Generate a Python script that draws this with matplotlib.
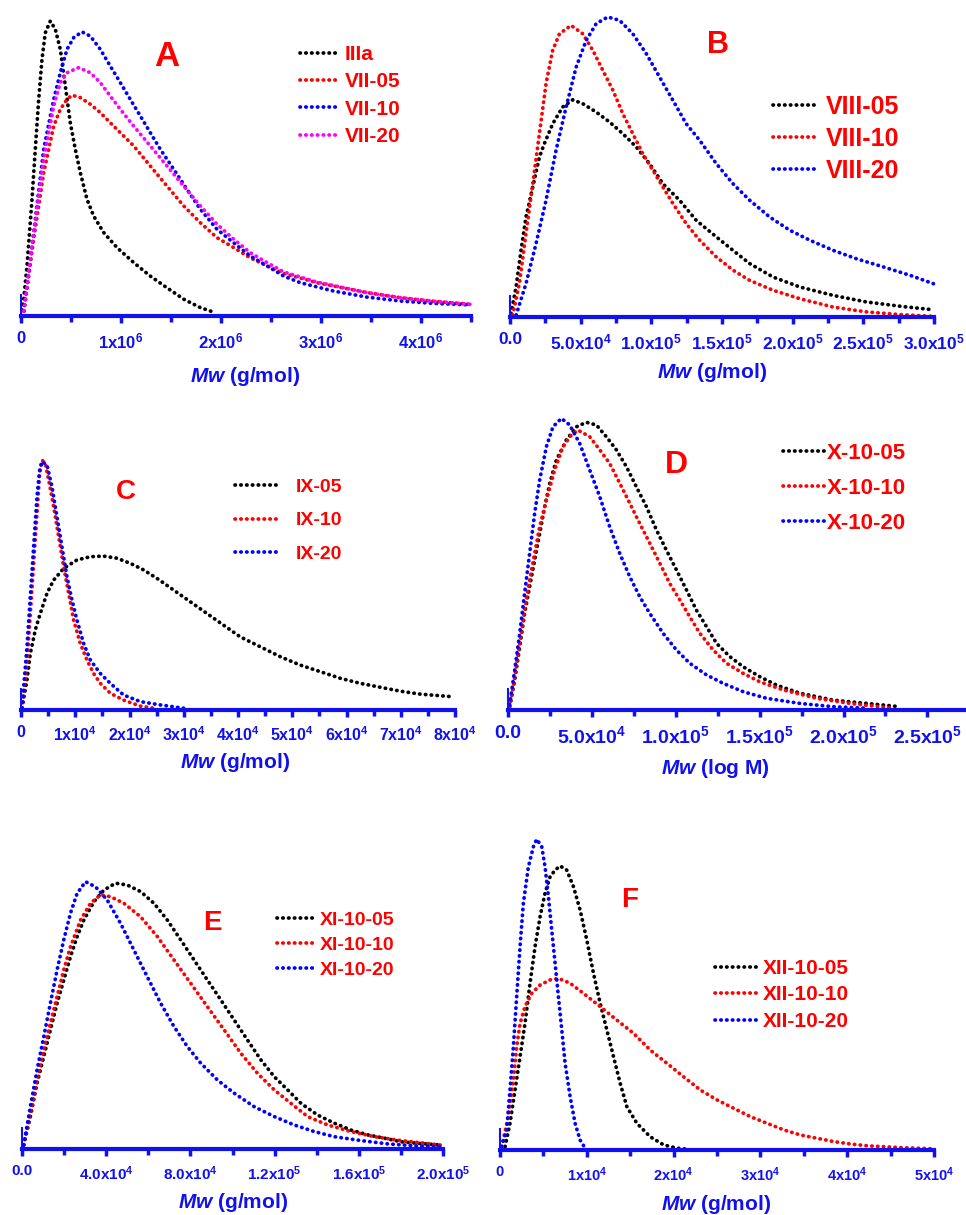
import numpy as np
import matplotlib
matplotlib.use("Agg")
import matplotlib.pyplot as plt
from matplotlib.ticker import FixedLocator, MultipleLocator, FixedFormatter

plt.rcParams['font.family'] = ['Liberation Sans', 'DejaVu Sans']
plt.rcParams['mathtext.fontset'] = 'custom'
plt.rcParams['mathtext.rm'] = 'Liberation Sans:bold'
plt.rcParams['mathtext.bf'] = 'Liberation Sans:bold'
plt.rcParams['mathtext.it'] = 'Liberation Sans:italic:bold'
plt.rcParams['mathtext.bfit'] = 'Liberation Sans:italic:bold'

BLUE = '#1010f0'

# ---------------- panel A  (x in 1e6 g/mol, y relative) ----------------
a_names = ['IIIa', 'VII-05', 'VII-10', 'VII-20']
a_x_IIIa = [0, 0.027, 0.06, 0.11, 0.143, 0.177, 0.21, 0.243, 0.293, 0.343, 0.393, 0.443, 0.493, 0.543, 0.593,
            0.66, 0.727, 0.827, 0.96, 1.127, 1.293, 1.46, 1.627, 1.793, 1.943]
a_y_IIIa = [0, 0.056, 0.167, 0.389, 0.556, 0.722, 0.856, 0.944, 0.983, 0.956, 0.889, 0.767, 0.644, 0.556, 0.478,
            0.389, 0.333, 0.278, 0.228, 0.178, 0.133, 0.094, 0.056, 0.028, 0.011]
a_x_VII05 = [0, 0.027, 0.127, 0.227, 0.327, 0.393, 0.46, 0.51, 0.593, 0.693, 0.793, 0.893, 0.993, 1.127, 1.293,
             1.46, 1.627, 1.793, 1.96, 2.127, 2.293, 2.46, 2.627, 2.96, 3.46, 3.793, 4.127, 4.493]
a_y_VII05 = [0, 0.011, 0.256, 0.478, 0.633, 0.689, 0.722, 0.736, 0.728, 0.706, 0.678, 0.644, 0.611, 0.567, 0.5,
             0.433, 0.367, 0.311, 0.261, 0.228, 0.194, 0.167, 0.142, 0.111, 0.078, 0.061, 0.049, 0.039]
a_x_VII10 = [0, 0.027, 0.127, 0.227, 0.327, 0.393, 0.46, 0.527, 0.61, 0.693, 0.793, 0.893, 0.993, 1.093, 1.193,
             1.293, 1.393, 1.527, 1.66, 1.793, 1.96, 2.127, 2.293, 2.46, 2.627, 2.793, 3.127, 3.46, 3.793, 4.127, 4.493]
a_y_VII10 = [0, 0.011, 0.278, 0.556, 0.722, 0.811, 0.889, 0.928, 0.947, 0.933, 0.889, 0.833, 0.778, 0.722, 0.667,
             0.611, 0.556, 0.489, 0.422, 0.356, 0.289, 0.244, 0.2, 0.167, 0.133, 0.111, 0.083, 0.063, 0.05, 0.042, 0.037]
a_x_VII20 = [0, 0.027, 0.127, 0.227, 0.327, 0.393, 0.46, 0.577, 0.693, 0.793, 0.893, 0.993, 1.127, 1.293, 1.46,
             1.627, 1.793, 1.96, 2.127, 2.293, 2.46, 2.627, 2.96, 3.46, 3.793, 4.127, 4.493]
a_y_VII20 = [0, 0.011, 0.278, 0.522, 0.7, 0.778, 0.811, 0.828, 0.811, 0.778, 0.733, 0.689, 0.633, 0.567, 0.5,
             0.433, 0.367, 0.306, 0.256, 0.211, 0.178, 0.147, 0.113, 0.078, 0.061, 0.049, 0.039]

# ---------------- panel B  (x in 1e5 g/mol) ----------------
b_names = ['VIII-05', 'VIII-10', 'VIII-20']
b_x_05 = [0.007, 0.043, 0.078, 0.113, 0.161, 0.208, 0.243, 0.302, 0.373, 0.444, 0.515, 0.61, 0.704, 0.798, 0.893,
          0.987, 1.082, 1.2, 1.318, 1.46, 1.578, 1.696, 1.862, 2.051, 2.287, 2.523, 2.759, 2.996]
b_y_05 = [0.011, 0.1, 0.222, 0.333, 0.433, 0.533, 0.578, 0.644, 0.7, 0.724, 0.711, 0.683, 0.65, 0.611, 0.567,
          0.511, 0.444, 0.389, 0.322, 0.267, 0.222, 0.178, 0.133, 0.1, 0.072, 0.05, 0.036, 0.024]
b_x_10 = [0.019, 0.066, 0.113, 0.161, 0.208, 0.255, 0.302, 0.35, 0.432, 0.515, 0.586, 0.657, 0.728, 0.798, 0.869,
          0.94, 1.011, 1.082, 1.153, 1.247, 1.342, 1.46, 1.578, 1.696, 1.862, 2.051, 2.287, 2.523, 2.759, 2.996]
b_y_10 = [0.006, 0.111, 0.278, 0.444, 0.611, 0.778, 0.889, 0.944, 0.972, 0.944, 0.889, 0.822, 0.756, 0.678, 0.611,
          0.544, 0.489, 0.433, 0.378, 0.311, 0.256, 0.2, 0.156, 0.122, 0.089, 0.061, 0.033, 0.017, 0.008, 0.002]
b_x_20 = [0.043, 0.113, 0.184, 0.255, 0.326, 0.397, 0.468, 0.539, 0.61, 0.692, 0.775, 0.869, 0.964, 1.058, 1.153,
          1.247, 1.342, 1.46, 1.578, 1.696, 1.838, 1.98, 2.121, 2.287, 2.452, 2.641, 2.83, 2.996]
b_y_20 = [0.006, 0.111, 0.244, 0.389, 0.556, 0.7, 0.833, 0.922, 0.978, 1.0, 0.989, 0.944, 0.878, 0.8, 0.722,
          0.644, 0.589, 0.511, 0.444, 0.389, 0.333, 0.289, 0.256, 0.222, 0.194, 0.167, 0.139, 0.111]

# ---------------- panel C  (x in 1e4 g/mol) ----------------
c_names = ['IX-05', 'IX-10', 'IX-20']
c_x_05 = [0.018, 0.11, 0.172, 0.264, 0.356, 0.479, 0.602, 0.786, 1.031, 1.277, 1.522, 1.768, 2.014, 2.259, 2.505,
          2.812, 3.119, 3.425, 3.732, 4.039, 4.408, 4.776, 5.144, 5.513, 5.881, 6.249, 6.618, 6.986, 7.354, 7.968]
c_y_05 = [0.006, 0.1, 0.189, 0.267, 0.322, 0.389, 0.433, 0.472, 0.5, 0.511, 0.513, 0.506, 0.489, 0.467, 0.439,
          0.4, 0.361, 0.322, 0.283, 0.244, 0.211, 0.178, 0.15, 0.128, 0.106, 0.089, 0.076, 0.063, 0.053, 0.044]
c_x_10 = [0.018, 0.11, 0.172, 0.233, 0.295, 0.344, 0.387, 0.448, 0.51, 0.602, 0.694, 0.786, 0.878, 0.97, 1.093,
          1.215, 1.338, 1.461, 1.645, 1.891, 2.198, 2.443]
c_y_10 = [0.006, 0.156, 0.322, 0.489, 0.656, 0.789, 0.833, 0.822, 0.767, 0.678, 0.578, 0.478, 0.389, 0.3, 0.222,
          0.167, 0.122, 0.089, 0.056, 0.033, 0.013, 0.006]
c_x_20 = [0.018, 0.11, 0.172, 0.233, 0.295, 0.344, 0.387, 0.479, 0.571, 0.663, 0.755, 0.847, 0.939, 1.031, 1.154,
          1.277, 1.461, 1.645, 1.891, 2.198, 2.566, 2.996]
c_y_20 = [0.006, 0.211, 0.378, 0.544, 0.711, 0.8, 0.828, 0.817, 0.744, 0.644, 0.544, 0.444, 0.367, 0.3, 0.222,
          0.167, 0.122, 0.089, 0.05, 0.028, 0.017, 0.006]

# ---------------- panel D  (x in 1e5) ----------------
d_names = ['X-10-05', 'X-10-10', 'X-10-20']
d_x_05 = [0.01, 0.04, 0.07, 0.099, 0.129, 0.159, 0.189, 0.219, 0.249, 0.288, 0.348, 0.408, 0.467, 0.527, 0.586,
          0.646, 0.706, 0.765, 0.825, 0.885, 0.944, 1.004, 1.064, 1.123, 1.183, 1.243, 1.322, 1.402, 1.501, 1.6,
          1.74, 1.938, 2.137, 2.336]
d_y_05 = [0.011, 0.1, 0.211, 0.322, 0.411, 0.5, 0.589, 0.678, 0.756, 0.833, 0.9, 0.944, 0.959, 0.95, 0.911,
          0.867, 0.811, 0.744, 0.678, 0.6, 0.533, 0.467, 0.4, 0.333, 0.278, 0.222, 0.178, 0.144, 0.111, 0.083,
          0.056, 0.033, 0.022, 0.011]
d_x_10 = [0.01, 0.04, 0.07, 0.099, 0.129, 0.159, 0.189, 0.229, 0.278, 0.328, 0.378, 0.417, 0.487, 0.547, 0.606,
          0.666, 0.726, 0.785, 0.845, 0.905, 0.964, 1.024, 1.083, 1.143, 1.223, 1.302, 1.402, 1.501, 1.64, 1.839,
          2.038, 2.296]
d_y_10 = [0.011, 0.111, 0.222, 0.333, 0.433, 0.522, 0.611, 0.7, 0.8, 0.878, 0.917, 0.933, 0.911, 0.867, 0.822,
          0.756, 0.689, 0.622, 0.556, 0.489, 0.422, 0.367, 0.311, 0.256, 0.2, 0.156, 0.122, 0.094, 0.067, 0.039,
          0.022, 0.006]
d_x_20 = [0.01, 0.04, 0.07, 0.099, 0.129, 0.159, 0.189, 0.229, 0.268, 0.318, 0.368, 0.427, 0.487, 0.547, 0.606,
          0.666, 0.726, 0.785, 0.845, 0.924, 1.004, 1.083, 1.183, 1.282, 1.402, 1.541, 1.74, 1.938, 2.137]
d_y_20 = [0.017, 0.133, 0.256, 0.389, 0.522, 0.656, 0.767, 0.878, 0.944, 0.972, 0.95, 0.889, 0.8, 0.711, 0.611,
          0.522, 0.444, 0.378, 0.322, 0.256, 0.2, 0.156, 0.117, 0.089, 0.061, 0.039, 0.022, 0.011, 0.006]

# ---------------- panel E  (x in 1e4) ----------------
e_names = ['XI-10-05', 'XI-10-10', 'XI-10-20']
e_x_05 = [0.079, 0.397, 0.714, 1.032, 1.349, 1.667, 1.984, 2.302, 2.619, 2.937, 3.413, 3.889, 4.444, 5.0, 5.635,
          6.27, 6.905, 7.54, 8.175, 8.81, 9.444, 10.079, 10.714, 11.349, 11.984, 12.619, 13.254, 14.048, 14.841,
          15.635, 16.429, 17.222, 18.016, 18.81, 19.921]
e_y_05 = [0.013, 0.108, 0.219, 0.308, 0.397, 0.486, 0.563, 0.641, 0.708, 0.763, 0.824, 0.863, 0.886, 0.88, 0.858,
          0.819, 0.763, 0.697, 0.63, 0.563, 0.497, 0.43, 0.363, 0.297, 0.241, 0.197, 0.152, 0.113, 0.086,
          0.063, 0.047, 0.036, 0.024, 0.019, 0.013]
e_x_10 = [0.079, 0.397, 0.714, 1.032, 1.349, 1.667, 1.984, 2.302, 2.778, 3.254, 3.73, 4.206, 4.841, 5.635, 6.429,
          7.222, 8.016, 8.81, 9.603, 10.397, 11.19, 11.984, 12.778, 13.571, 14.524, 15.635, 16.746, 18.016, 19.921]
e_y_10 = [0.013, 0.119, 0.23, 0.33, 0.419, 0.508, 0.597, 0.674, 0.763, 0.819, 0.847, 0.841, 0.819, 0.774, 0.708,
          0.63, 0.552, 0.474, 0.397, 0.319, 0.252, 0.197, 0.152, 0.108, 0.08, 0.058, 0.041, 0.028, 0.013]
e_x_20 = [0.079, 0.397, 0.714, 1.032, 1.349, 1.667, 1.984, 2.302, 2.619, 3.016, 3.492, 4.048, 4.683, 5.317, 5.952,
          6.587, 7.222, 7.857, 8.492, 9.286, 10.079, 11.032, 11.984, 12.937, 13.889, 14.841, 16.111, 17.381,
          18.81, 19.921]
e_y_20 = [0.013, 0.141, 0.263, 0.374, 0.486, 0.597, 0.697, 0.786, 0.852, 0.891, 0.874, 0.83, 0.752, 0.663, 0.574,
          0.486, 0.408, 0.341, 0.286, 0.23, 0.186, 0.141, 0.108, 0.08, 0.058, 0.041, 0.028, 0.017, 0.01, 0.008]

# ---------------- panel F  (x in 1e4) ----------------
f_names = ['XII-10-05', 'XII-10-10', 'XII-10-20']
f_x_05 = [0.058, 0.115, 0.173, 0.231, 0.288, 0.346, 0.404, 0.462, 0.519, 0.577, 0.635, 0.692, 0.769, 0.846, 0.923,
          1.0, 1.077, 1.154, 1.231, 1.308, 1.385, 1.462, 1.577, 1.731, 1.885, 2.038, 2.154]
f_y_05 = [0.011, 0.089, 0.2, 0.311, 0.422, 0.556, 0.678, 0.778, 0.856, 0.911, 0.933, 0.947, 0.933, 0.878, 0.8,
          0.7, 0.589, 0.489, 0.4, 0.311, 0.222, 0.144, 0.089, 0.044, 0.017, 0.006, 0.003]
f_x_10 = [0.019, 0.096, 0.154, 0.192, 0.231, 0.288, 0.365, 0.462, 0.577, 0.673, 0.808, 0.962, 1.154, 1.346, 1.538,
          1.731, 1.923, 2.115, 2.308, 2.5, 2.692, 2.885, 3.077, 3.269, 3.462, 3.654, 3.846, 4.038, 4.231, 4.423,
          4.615, 5.0]
f_y_10 = [0.011, 0.111, 0.233, 0.344, 0.422, 0.478, 0.522, 0.55, 0.567, 0.572, 0.556, 0.522, 0.478, 0.433, 0.389,
          0.333, 0.289, 0.244, 0.2, 0.167, 0.139, 0.111, 0.089, 0.067, 0.05, 0.039, 0.028, 0.02, 0.014, 0.011,
          0.008, 0.004]
f_x_20 = [0.019, 0.077, 0.115, 0.154, 0.192, 0.231, 0.269, 0.327, 0.385, 0.423, 0.481, 0.519, 0.558, 0.596, 0.635,
          0.673, 0.712, 0.75, 0.808, 0.865, 0.923, 0.981]
f_y_20 = [0.011, 0.067, 0.2, 0.344, 0.511, 0.678, 0.822, 0.944, 1.011, 1.036, 1.011, 0.944, 0.844, 0.733, 0.622,
          0.511, 0.4, 0.289, 0.178, 0.089, 0.033, 0.006]

# tick labels
a_ticks = ['0', '1x10$^{6}$', '2x10$^{6}$', '3x10$^{6}$', '4x10$^{6}$']
b_ticks = ['0.0', '5.0x10$^{4}$', '1.0x10$^{5}$', '1.5x10$^{5}$', '2.0x10$^{5}$', '2.5x10$^{5}$', '3.0x10$^{5}$']
c_ticks = ['0'] + ['%dx10$^{4}$' % i for i in range(1, 9)]
d_ticks = ['0.0', '5.0x10$^{4}$', '1.0x10$^{5}$', '1.5x10$^{5}$', '2.0x10$^{5}$', '2.5x10$^{5}$']
e_ticks = ['0.0', '4.0x10$^{4}$', '8.0x10$^{4}$', '1.2x10$^{5}$', '1.6x10$^{5}$', '2.0x10$^{5}$']
f_ticks = ['0'] + ['%dx10$^{4}$' % i for i in range(1, 6)]

W, H = 966, 1215
fig = plt.figure(figsize=(W / 100, H / 100), dpi=100)


def px_axes(x0, x1, base, h=300):
    return fig.add_axes([x0 / W, (H - base) / H, (x1 - x0) / W, h / H])


def style(ax, xmax, major, minor, labels, tsize):
    ax.set_xlim(0, xmax)
    ax.set_ylim(0, 1)
    for s in ['top', 'right']:
        ax.spines[s].set_visible(False)
    ax.spines['bottom'].set_color(BLUE)
    ax.spines['bottom'].set_linewidth(3)
    ax.spines['left'].set_color(BLUE)
    ax.spines['left'].set_linewidth(1.5)
    ax.spines['left'].set_bounds(0, 0.07)
    ax.set_yticks([])
    ax.xaxis.set_major_locator(FixedLocator([major * i for i in range(len(labels))]))
    ax.xaxis.set_major_formatter(FixedFormatter(labels))
    ax.xaxis.set_minor_locator(MultipleLocator(minor))
    ax.tick_params(axis='x', which='major', length=5, width=2.5, color=BLUE, labelcolor=BLUE,
                   labelsize=tsize, pad=6, direction='out')
    ax.tick_params(axis='x', which='minor', length=4, width=2.5, color=BLUE)
    for t in ax.get_xticklabels():
        t.set_fontweight('bold')
    ax.patch.set_alpha(0)


def curve(ax, x, y, scale, color, label):
    ax.plot(np.array(x) * scale, y, color=color, lw=2.7, linestyle=(0, (0.1, 1.45)),
            dash_capstyle='round', clip_on=False, label=label)


def legend(ax, xpx, ypx, fs, hl, tp, ls):
    ax.legend(loc='upper left', bbox_to_anchor=(xpx / W, 1 - ypx / H), bbox_transform=fig.transFigure,
              frameon=False, borderpad=0, borderaxespad=0, handlelength=hl, handletextpad=tp,
              labelspacing=ls, labelcolor='#ff0000', prop={'weight': 'bold', 'size': fs})


def letter(s, xpx, ypx, fs):
    fig.text(xpx / W, 1 - ypx / H, s, color='#ff0000', fontsize=fs, fontweight='bold',
             ha='center', va='center')


def xlab(s, xpx, ypx):
    fig.text(xpx / W, 1 - ypx / H, s, color=BLUE, fontsize=15, fontweight='bold',
             ha='center', va='center')


# A
ax = px_axes(21, 471, 316)
curve(ax, a_x_IIIa, a_y_IIIa, 1e6, 'black', a_names[0])
curve(ax, a_x_VII05, a_y_VII05, 1e6, 'red', a_names[1])
curve(ax, a_x_VII10, a_y_VII10, 1e6, 'blue', a_names[2])
curve(ax, a_x_VII20, a_y_VII20, 1e6, 'magenta', a_names[3])
style(ax, 4.5e6, 1e6, 5e5, a_ticks, 12)
legend(ax, 300, 45, 15, 1.9, 0.25, 0.4)
letter('A', 167, 57, 25)
xlab(r'$\mathbfit{Mw}$ (g/mol)', 245, 376)

# B
ax = px_axes(510, 934, 317)
curve(ax, b_x_05, b_y_05, 1e5, 'black', b_names[0])
curve(ax, b_x_10, b_y_10, 1e5, 'red', b_names[1])
curve(ax, b_x_20, b_y_20, 1e5, 'blue', b_names[2])
style(ax, 3.0e5, 5e4, 2.5e4, b_ticks, 12.5)
legend(ax, 773, 95, 18, 1.7, 0.4, 0.31)
letter('B', 718, 45, 22)
xlab(r'$\mathbfit{Mw}$ (g/mol)', 712, 372)

# C
ax = px_axes(21, 455, 710)
curve(ax, c_x_05, c_y_05, 1e4, 'black', c_names[0])
curve(ax, c_x_10, c_y_10, 1e4, 'red', c_names[1])
curve(ax, c_x_20, c_y_20, 1e4, 'blue', c_names[2])
style(ax, 8e4, 1e4, 5e3, c_ticks, 11.5)
legend(ax, 235, 478, 14, 2.3, 0.8, 0.83)
letter('C', 126, 492, 20)
xlab(r'$\mathbfit{Mw}$ (g/mol)', 235, 762)

# D
ax = px_axes(508, 966, 710)
curve(ax, d_x_05, d_y_05, 1e5, 'black', d_names[0])
curve(ax, d_x_10, d_y_10, 1e5, 'red', d_names[1])
curve(ax, d_x_20, d_y_20, 1e5, 'blue', d_names[2])
style(ax, 2.73e5, 5e4, 2.5e4, d_ticks, 14)
legend(ax, 783, 443, 16, 1.9, 0.05, 0.63)
letter('D', 676, 465, 23)
xlab(r'$\mathbfit{Mw}$ (log M)', 715, 768)

# E
ax = px_axes(22, 443, 1149)
curve(ax, e_x_05, e_y_05, 1e4, 'black', e_names[0])
curve(ax, e_x_10, e_y_10, 1e4, 'red', e_names[1])
curve(ax, e_x_20, e_y_20, 1e4, 'blue', e_names[2])
style(ax, 2.0e5, 4e4, 2e4, e_ticks, 11)
legend(ax, 277, 911, 14, 2.06, 0.15, 0.38)
letter('E', 212, 923, 20)
xlab(r'$\mathbfit{Mw}$ (g/mol)', 233, 1203)

# F
ax = px_axes(500, 934, 1150)
curve(ax, f_x_05, f_y_05, 1e4, 'black', f_names[0])
curve(ax, f_x_10, f_y_10, 1e4, 'red', f_names[1])
curve(ax, f_x_20, f_y_20, 1e4, 'blue', f_names[2])
style(ax, 5e4, 1e4, 5e3, f_ticks, 10.5)
legend(ax, 715, 959, 15, 2.2, 0.1, 0.36)
letter('F', 630, 900, 20)
xlab(r'$\mathbfit{Mw}$ (g/mol)', 716, 1204)

fig.savefig('out.png', dpi=100)
